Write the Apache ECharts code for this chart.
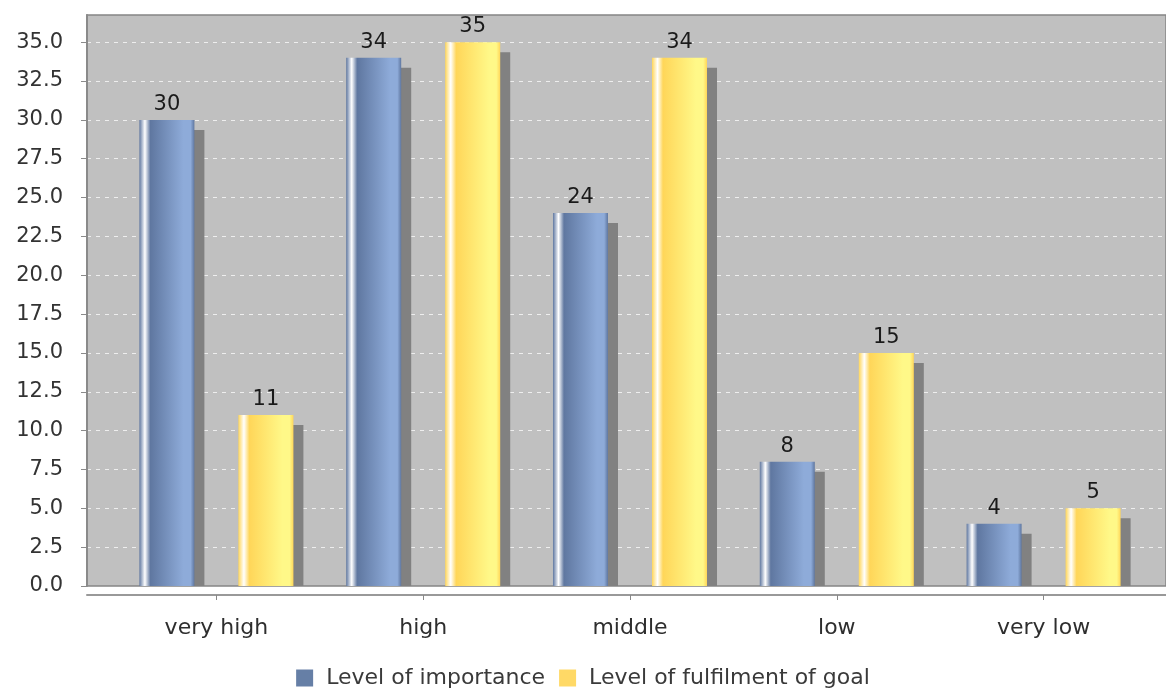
<!DOCTYPE html>
<html>
<head>
<meta charset="utf-8">
<script src="https://cdn.jsdelivr.net/npm/echarts@6/dist/echarts.min.js"></script>
<style>html,body{margin:0;padding:0;background:#fff}#c{width:1166px;height:690px}</style>
</head>
<body>
<div id="c"></div>
<script>
const categories = ['very high', 'high', 'middle', 'low', 'very low'];
const seriesNames = ['Level of importance', 'Level of fulfilment of goal'];
const importance = [30, 34, 24, 8, 4];
const fulfilment = [11, 35, 34, 15, 5];
const yTicks = { min: 0, max: 36.75, interval: 2.5 };

const FONT = '"DejaVu Sans", sans-serif';
const BLUE = { c0: '#5f77a0', c1: '#8eabd9', legend: '#667fa6' };
const YELL = { c0: '#ffd659', c1: '#fff888', legend: '#ffd966' };

function grad(c) {
  return new echarts.graphic.LinearGradient(0, 0, 1, 0, [
    { offset: 0, color: c.c0 },
    { offset: 0.1, color: '#ffffff' },
    { offset: 0.2, color: c.c0 },
    { offset: 0.8, color: c.c1 },
    { offset: 0.93, color: c.c1 },
    { offset: 1, color: c.c0 }
  ]);
}

function makeRender(side, colors) {
  return function (params, api) {
    const idx = api.value(0), v = api.value(1);
    const band = api.size([1, 0])[0];
    const base = api.coord([idx, 0]);
    const top = api.coord([idx, v]);
    const w = band * 0.266, hg = band * 0.1064;
    const x = side < 0 ? base[0] - hg - w : base[0] + hg;
    const yTop = top[1], yBase = base[1];
    return {
      type: 'group',
      children: [
        { type: 'rect', shape: { x: x + 10, y: yTop + 10, width: w, height: Math.max(0, yBase - yTop - 10) }, style: { fill: '#818181' } },
        { type: 'rect', shape: { x: x, y: yTop, width: w, height: yBase - yTop }, style: { fill: grad(colors) } },
        { type: 'text', style: { text: String(v), x: x + w / 2, y: yTop - 5, align: 'center', verticalAlign: 'bottom', fill: '#1a1a1a', font: '21px ' + FONT } }
      ]
    };
  };
}

const chart = echarts.init(document.getElementById('c'), null, { renderer: 'canvas' });
chart.setOption({
  backgroundColor: '#ffffff',
  animation: false,
  textStyle: { fontFamily: FONT },
  legend: {
    bottom: -4,
    left: 'center',
    itemWidth: 17,
    itemHeight: 17,
    itemGap: 14,
    icon: 'rect',
    textStyle: { fontSize: 22, color: '#3a3a3a', fontFamily: FONT, padding: [0, 0, 0, 8] },
    data: [
      { name: seriesNames[0], itemStyle: { color: BLUE.legend } },
      { name: seriesNames[1], itemStyle: { color: YELL.legend } }
    ]
  },
  grid: [
    { left: 87, right: -4, top: 15, bottom: 104, show: true, backgroundColor: '#c0c0c0', borderColor: '#858585', borderWidth: 1.5 },
    { left: 113, right: 19, top: 15, bottom: 104 }
  ],
  xAxis: [
    { gridIndex: 0, type: 'value', min: 0, max: 1, offset: 9,
      axisLine: { show: true, onZero: false, lineStyle: { color: '#999999', width: 2 } },
      axisTick: { show: false }, axisLabel: { show: false }, splitLine: { show: false } },
    { gridIndex: 1, type: 'category', data: categories, offset: 9,
      axisLine: { show: false, onZero: false },
      axisTick: { show: true, alignWithLabel: true, length: 5, lineStyle: { color: '#888888', width: 1 } },
      axisLabel: { margin: 22, fontSize: 22, color: '#2e2e2e', fontFamily: FONT } }
  ],
  yAxis: [
    { gridIndex: 0, type: 'value', min: yTicks.min, max: yTicks.max, interval: yTicks.interval, offset: 10,
      axisLine: { show: true, lineStyle: { color: '#8a8a8a', width: 2 } },
      axisTick: { show: true, length: 6, lineStyle: { color: '#8a8a8a', width: 1 } },
      axisLabel: { margin: 14, fontSize: 21, color: '#333333', fontFamily: FONT, showMaxLabel: false,
        formatter: function (v) { return Math.abs(v / 2.5 - Math.round(v / 2.5)) < 1e-6 ? v.toFixed(1) : ''; } },
      splitLine: { show: true, showMinLine: false, showMaxLine: false, lineStyle: { color: '#eeeeee', width: 1, type: [4, 5] } } },
    { gridIndex: 1, type: 'value', min: yTicks.min, max: yTicks.max, show: false, splitLine: { show: false } }
  ],
  series: [
    { name: seriesNames[0], type: 'custom', xAxisIndex: 1, yAxisIndex: 1, itemStyle: { color: BLUE.legend },
      renderItem: makeRender(-1, BLUE), encode: { x: 0, y: 1 },
      data: importance.map((v, i) => [i, v]) },
    { name: seriesNames[1], type: 'custom', xAxisIndex: 1, yAxisIndex: 1, itemStyle: { color: YELL.legend },
      renderItem: makeRender(1, YELL), encode: { x: 0, y: 1 },
      data: fulfilment.map((v, i) => [i, v]) }
  ]
});
</script>
</body>
</html>
